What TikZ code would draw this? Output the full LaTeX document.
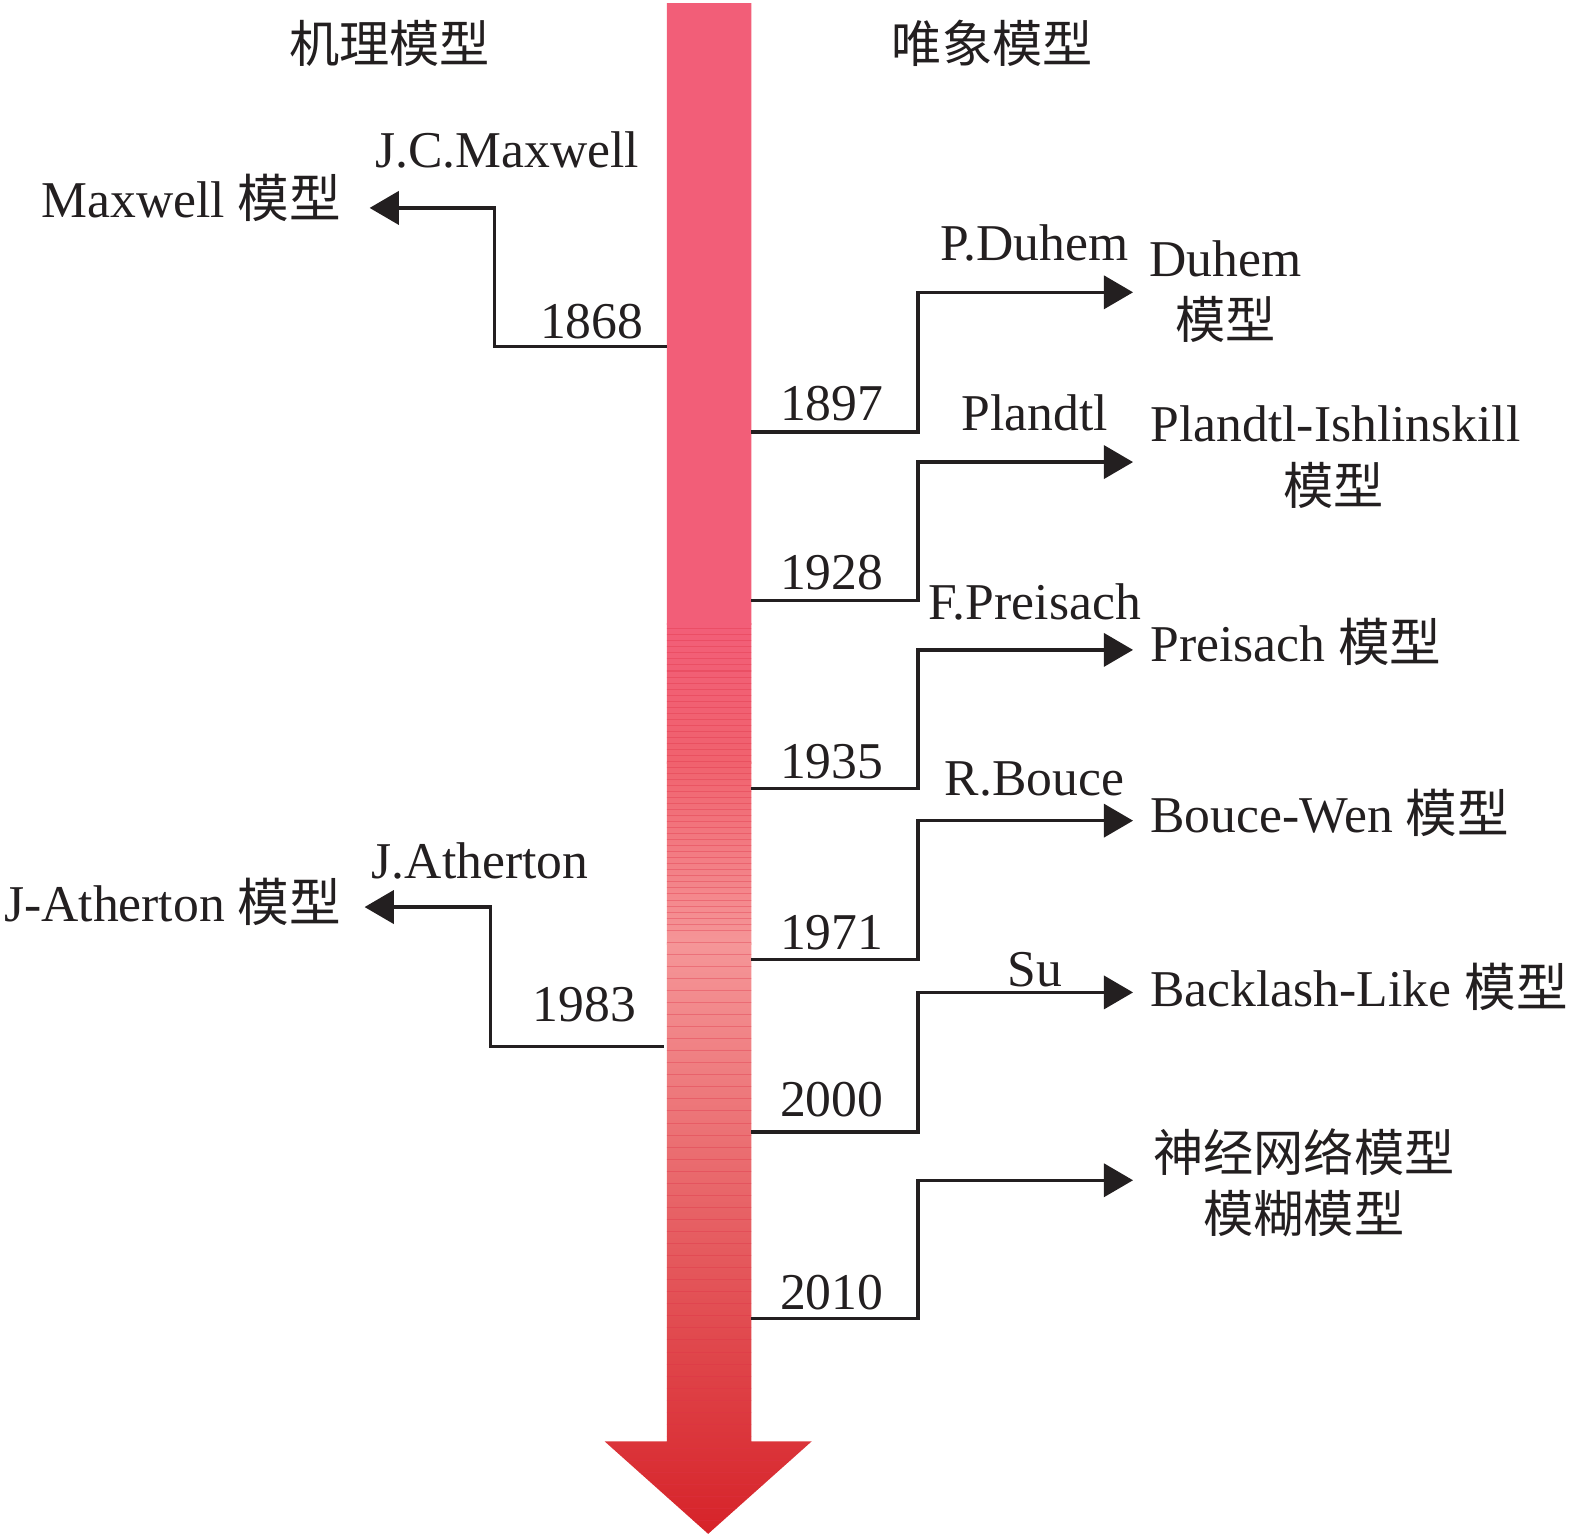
\documentclass[tikz,border=0pt]{standalone}
\usepackage{fontspec}
\setmainfont{Liberation Serif}
\newfontfamily\cjk{Noto Sans CJK SC}
\usetikzlibrary{arrows.meta}
\definecolor{armA}{RGB}{242,94,120}
\definecolor{armB}{RGB}{240,98,110}
\definecolor{armC}{RGB}{245,150,152}
\definecolor{armD}{RGB}{214,34,40}
\definecolor{band}{RGB}{222,50,70}
\definecolor{ink}{RGB}{35,31,32}
\begin{document}
\begin{tikzpicture}[x=0.5pt,y=-0.5pt,
  lbl/.style={inner sep=0pt, text=ink, font=\fontsize{25.7}{30}\selectfont},
  cjklbl/.style={lbl, font=\fontsize{25}{30}\selectfont\cjk},
  conn/.style={line width=1.6pt, draw=ink, line join=miter, -{Triangle[length=14.5pt,width=16.5pt]}}]
\useasboundingbox (0,0) rectangle (1568,1528);
% main arrow
\begin{scope}
  \clip (664,3) -- (748,3) -- (748,1435) -- (808,1435) -- (705,1527) -- (602,1435) -- (664,1435) -- cycle;
  \fill[armA] (600,0) rectangle (810,622);
  \shade[top color=armA, bottom color=armB] (600,621) rectangle (810,760);
  \shade[top color=armB, bottom color=armC] (600,759) rectangle (810,940);
  \shade[top color=armC, bottom color=armD] (600,939) rectangle (810,1530);
  \foreach \yy in {626,632,...,926} {\draw[band, opacity=0.35, line width=0.5pt] (600,\yy) -- (810,\yy);}
  \foreach \yy in {938,950,...,1526} {\draw[band, opacity=0.35, line width=0.5pt] (600,\yy) -- (810,\yy);}
\end{scope}
% headings
\node[cjklbl] (hl) at (388,43) {机理模型};
\node[cjklbl] (hr) at (988,43) {唯象模型};
% shaft anchor points
\coordinate (s0) at (664,345);  \coordinate (k0) at (492,207);  \coordinate (e0) at (368,207);
\coordinate (s7) at (661,1042); \coordinate (k7) at (488,903);  \coordinate (e7) at (363,903);
\coordinate (s1) at (748,430);  \coordinate (k1) at (914,291);  \coordinate (e1) at (1128,291);
\coordinate (s2) at (748,598);  \coordinate (k2) at (914,460);  \coordinate (e2) at (1128,460);
\coordinate (s3) at (748,785);  \coordinate (k3) at (914,647);  \coordinate (e3) at (1128,647);
\coordinate (s4) at (748,955);  \coordinate (k4) at (914,817);  \coordinate (e4) at (1128,817);
\coordinate (s5) at (748,1127); \coordinate (k5) at (914,988);  \coordinate (e5) at (1128,988);
\coordinate (s6) at (748,1313); \coordinate (k6) at (914,1175); \coordinate (e6) at (1128,1175);
% connectors
\foreach \i in {0,...,7} {\draw[conn] (s\i) -| (k\i) -- (e\i);}
% left side labels
\node[lbl, anchor=base] (y0) at (589,337) {1868};
\node[lbl, anchor=base] (n0) at (505,167) {J.C.Maxwell};
\node[lbl, anchor=base east] (t0) at (340,217) {Maxwell {\cjk 模型}};
\node[lbl, anchor=base] (y7) at (582,1017) {1983};
\node[lbl, anchor=base] (n7) at (478,875) {J.Atherton};
\node[lbl, anchor=base east] (t7) at (340,917) {J-Atherton {\cjk 模型}};
% right side years
\node[lbl, anchor=base] (y1) at (828,419) {1897};
\node[lbl, anchor=base] (y2) at (828,587) {1928};
\node[lbl, anchor=base] (y3) at (828,775) {1935};
\node[lbl, anchor=base] (y4) at (828,945) {1971};
\node[lbl, anchor=base] (y5) at (828,1112) {2000};
\node[lbl, anchor=base] (y6) at (828,1304) {2010};
% right side names
\node[lbl, anchor=base] (n1) at (1030,259) {P.Duhem};
\node[lbl, anchor=base] (n2) at (1030,429) {Plandtl};
\node[lbl, anchor=base] (n3) at (1030,617) {F.Preisach};
\node[lbl, anchor=base] (n4) at (1030,792) {R.Bouce};
\node[lbl, anchor=base] (n5) at (1030,982) {Su};
% right side models
\node[lbl, anchor=base] (t1) at (1220,275) {Duhem};
\node[cjklbl] (t1b) at (1220,318) {模型};
\node[lbl, anchor=base west] (t2) at (1145,440) {Plandtl-Ishlinskill};
\node[cjklbl] (t2b) at (1328,483) {模型};
\node[lbl, anchor=base west] (t3) at (1145,659) {Preisach {\cjk 模型}};
\node[lbl, anchor=base west] (t4) at (1145,829) {Bouce-Wen {\cjk 模型}};
\node[lbl, anchor=base west] (t5) at (1145,1002) {Backlash-Like {\cjk 模型}};
\node[cjklbl] (t6) at (1298,1147) {神经网络模型};
\node[cjklbl] (t6b) at (1298,1208) {模糊模型};
\end{tikzpicture}
\end{document}
